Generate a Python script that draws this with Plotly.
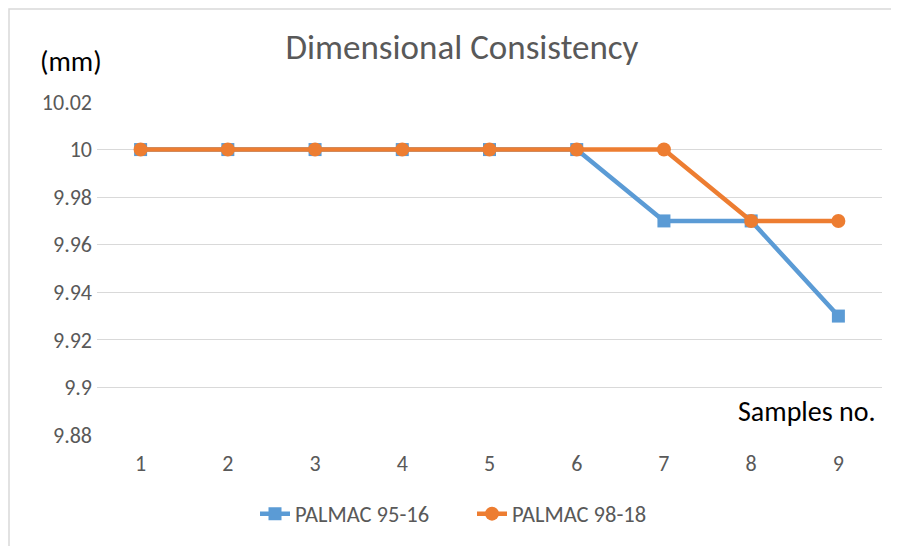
import plotly.graph_objects as go

samples = ["1", "2", "3", "4", "5", "6", "7", "8", "9"]
palmac_95_16 = [10.00, 10.00, 10.00, 10.00, 10.00, 10.00, 9.97, 9.97, 9.93]
palmac_98_18 = [10.00, 10.00, 10.00, 10.00, 10.00, 10.00, 10.00, 9.97, 9.97]
y_ticks = [9.88, 9.9, 9.92, 9.94, 9.96, 9.98, 10.0, 10.02]
y_tick_text = ["9.88", "9.9", "9.92", "9.94", "9.96", "9.98", "10", "10.02"]

FONT = "Carlito, Calibri, 'Liberation Sans Narrow', 'Open Sans', sans-serif"

# page is offset by the 8px body margin
L, T, PW, PH = 89, 94, 785, 333
W, H = 891, 538

fig = go.Figure()
fig.add_trace(go.Scatter(
    x=samples, y=palmac_95_16, name="PALMAC 95-16", mode="lines+markers",
    line=dict(color="#5B9BD5", width=4.5),
    marker=dict(symbol="square", size=13, color="#5B9BD5"),
))
fig.add_trace(go.Scatter(
    x=samples, y=palmac_98_18, name="PALMAC 98-18", mode="lines+markers",
    line=dict(color="#ED7D31", width=4.5),
    marker=dict(symbol="circle", size=14, color="#ED7D31"),
))

fig.update_layout(
    width=W, height=H,
    margin=dict(l=L, r=W - L - PW, t=T, b=H - T - PH, autoexpand=False),
    paper_bgcolor="white", plot_bgcolor="white",
    font=dict(family=FONT, color="#595959", size=22),
    title=dict(text="Dimensional Consistency", x=(462 - 8) / W, xanchor="center",
               y=1 - (47 - 8) / H, yanchor="middle",
               font=dict(family=FONT, size=35, color="#595959")),
    xaxis=dict(type="category", range=[-0.5, 8.5], showgrid=False,
               zeroline=False, showline=False, ticks="",
               ticklabelstandoff=13,
               tickfont=dict(size=22, color="#595959")),
    yaxis=dict(range=[9.88, 10.02], tickvals=y_ticks, ticktext=y_tick_text,
               showgrid=True, gridcolor="#D9D9D9", gridwidth=1,
               zeroline=False, showline=False, ticks="",
               ticklabelstandoff=4,
               tickfont=dict(size=22, color="#595959")),
    legend=dict(orientation="h", x=(472 - 97) / PW, xanchor="center",
                y=(435 - 514) / PH, yanchor="middle",
                entrywidth=172, entrywidthmode="pixels",
                font=dict(size=22.5, color="#595959")),
    showlegend=True,
    shapes=[dict(type="rect", xref="paper", yref="paper",
                 x0=(9 - 97) / PW, x1=1 + 40 / PW,
                 y0=-150 / PH, y1=1 + (102 - 9) / PH,
                 line=dict(color="#D9D9D9", width=1.5))],
    annotations=[
        dict(text="(mm)", xref="paper", yref="paper",
             x=(71 - 97) / PW, y=1 + (102 - 61) / PH,
             xanchor="center", yanchor="middle", showarrow=False,
             font=dict(family=FONT, size=28, color="#000000")),
        dict(text="Samples no.", xref="paper", yref="paper",
             x=(878 - 97) / PW, y=(435 - 411) / PH,
             xanchor="right", yanchor="middle", showarrow=False,
             font=dict(family=FONT, size=28, color="#000000")),
    ],
)

fig.write_html("out.html")
